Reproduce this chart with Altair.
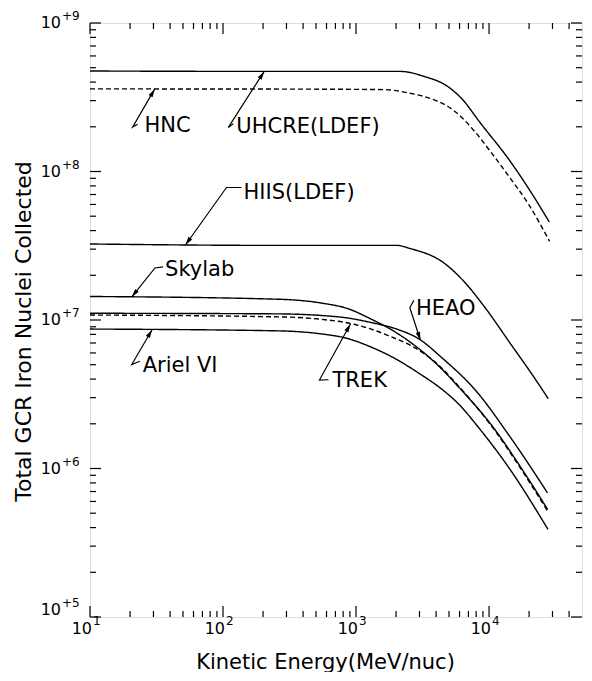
import math
import altair as alt
import pandas as pd

W, H = 492, 594
X_DOMAIN = [10, 50000]
Y_DOMAIN = [1e5, 1e9]
FONT = "DejaVu Sans"

# ---------------- curve data ----------------
uhcre_e = [10, 240, 2160, 3240, 4840, 6120, 8720, 13960, 19870, 28370]
uhcre_n = [4.75e8, 4.72e8, 4.72e8, 4.37e8, 3.76e8, 3.15e8, 2.09e8, 1.22e8, 7.67e7, 4.57e7]

hnc_e = [10, 243, 1630, 2440, 3660, 4870, 6160, 7800, 10470, 14030, 19950, 28500]
hnc_n = [3.6e8, 3.59e8, 3.56e8, 3.39e8, 3.09e8, 2.75e8, 2.34e8, 1.86e8, 1.33e8, 9.33e7, 5.96e7, 3.39e7]

hiis_e = [10, 243, 2030, 2550, 4560, 6470, 9220, 14770, 21000, 27900]
hiis_n = [3.25e7, 3.18e7, 3.18e7, 3.03e7, 2.43e7, 1.82e7, 1.23e7, 6.76e6, 4.32e6, 2.95e6]

skylab_e = [10, 260, 550, 873, 1310, 1970, 4200, 5960, 10720, 17180, 27600]
skylab_n = [1.44e7, 1.38e7, 1.3e7, 1.19e7, 1.01e7, 8.3e6, 4.88e6, 3.51e6, 1.9e6, 1.03e6, 5.3e5]

heao_e = [10, 250, 736, 1310, 2080, 2940, 4430, 7940, 14350, 27500]
heao_n = [1.11e7, 1.1e7, 1.05e7, 9.6e6, 8.61e6, 7.5e6, 5.56e6, 3.35e6, 1.64e6, 6.86e5]

trek_e = [10, 260, 552, 984, 1750, 2950, 3960, 5960, 10720, 17180, 27600]
trek_n = [1.08e7, 1.05e7, 1.01e7, 9.33e6, 7.85e6, 6.28e6, 5.19e6, 3.55e6, 1.87e6, 1.01e6, 5.15e5]

ariel_e = [10, 260, 554, 832, 1320, 1980, 2970, 4470, 6000, 8030, 14500, 27750]
ariel_n = [8.69e6, 8.45e6, 8.05e6, 7.57e6, 6.53e6, 5.48e6, 4.38e6, 3.39e6, 2.68e6, 1.97e6, 9.76e5, 3.89e5]

series_names = ["UHCRE(LDEF)", "HNC", "HIIS(LDEF)", "Skylab", "HEAO", "TREK", "Ariel VI"]
series_style = ["solid", "dashed", "solid", "solid", "solid", "dashed", "solid"]
series_e = [uhcre_e, hnc_e, hiis_e, skylab_e, heao_e, trek_e, ariel_e]
series_n = [uhcre_n, hnc_n, hiis_n, skylab_n, heao_n, trek_n, ariel_n]

# ---------------- annotations ----------------
label_text = ["HNC", "UHCRE(LDEF)", "HIIS(LDEF)", "Skylab", "Ariel VI", "TREK", "HEAO"]
label_e = [25.7, 126, 142.6, 36.7, 24.9, 665, 2820]
label_n = [2.02e8, 1.98e8, 7.22e7, 2.18e7, 4.89e6, 3.86e6, 1.19e7]

leader_e = [
    [22.8, 20.9, 30.7],
    [119.4, 109.6, 204],
    [137.5, 106.2, 52.2],
    [35.4, 30.8, 20.6],
    [23.7, 20.6, 29.3],
    [621, 531, 908],
    [2720, 2540, 3050],
]
leader_n = [
    [2.08e8, 1.99e8, 3.6e8],
    [2.1e8, 1.98e8, 4.72e8],
    [7.8e7, 7.8e7, 3.2e7],
    [2.28e7, 2.24e7, 1.43e7],
    [5.27e6, 5.02e6, 8.6e6],
    [3.96e6, 3.94e6, 9.4e6],
    [1.36e7, 1.21e7, 7.3e6],
]

# ---------------- axis ticks / labels ----------------
x_major = [10, 100, 1000, 10000]
x_label_base = ["10", "10", "10", "10"]
x_label_sup = ["1", "2", "3", "4"]
x_minor = [20, 30, 40, 50, 60, 70, 80, 90,
           200, 300, 400, 500, 600, 700, 800, 900,
           2000, 3000, 4000, 5000, 6000, 7000, 8000, 9000,
           20000, 30000, 40000]
y_major = [1e5, 1e6, 1e7, 1e8, 1e9]
y_label_base = ["10", "10", "10", "10", "10"]
y_label_sup = ["+5", "+6", "+7", "+8", "+9"]
y_minor = [m * 10 ** k for k in range(5, 9) for m in range(2, 10)]

# ---------------- build tables ----------------
rows = []
for name, style, es, ns in zip(series_names, series_style, series_e, series_n):
    for e, n in zip(es, ns):
        rows.append({"series": name, "style": style, "E": e, "N": n})
curves = pd.DataFrame(rows)

labels_df = pd.DataFrame({"text": label_text, "E": label_e, "N": label_n})

lrows = []
for name, es, ns in zip(label_text, leader_e, leader_n):
    for i, (e, n) in enumerate(zip(es, ns)):
        lrows.append({"label": name, "i": i, "E": e, "N": n})
leaders = pd.DataFrame(lrows)


def px(e):
    return W * (math.log10(e) - math.log10(X_DOMAIN[0])) / (math.log10(X_DOMAIN[1]) - math.log10(X_DOMAIN[0]))


def py(n):
    return H * (math.log10(Y_DOMAIN[1]) - math.log10(n)) / (math.log10(Y_DOMAIN[1]) - math.log10(Y_DOMAIN[0]))


arows = []
for name, es, ns in zip(label_text, leader_e, leader_n):
    dx = px(es[-1]) - px(es[-2])
    dy = py(ns[-1]) - py(ns[-2])
    ang = math.degrees(math.atan2(dx, -dy)) % 360
    arows.append({"label": name, "E": es[-1], "N": ns[-1], "angle": ang})
arrows = pd.DataFrame(arows)

xmaj_df = pd.DataFrame({"E": x_major, "base": x_label_base, "sup": x_label_sup})
xmin_df = pd.DataFrame({"E": x_minor})
ymaj_df = pd.DataFrame({"N": y_major, "base": y_label_base, "sup": y_label_sup})
ymin_df = pd.DataFrame({"N": y_minor})

xscale = alt.Scale(type="log", domain=X_DOMAIN, nice=False)
yscale = alt.Scale(type="log", domain=Y_DOMAIN, nice=False)

x_axis = alt.Axis(
    labels=False, ticks=False, domain=False, grid=False,
    title="Kinetic Energy(MeV/nuc)", titleFontSize=21, titleFont=FONT,
    titleFontWeight="normal", titleColor="black",
    titleX=235, titleY=45, titleAlign="center", titleBaseline="middle",
)
y_axis = alt.Axis(
    labels=False, ticks=False, domain=False, grid=False,
    title="Total GCR Iron Nuclei Collected", titleFontSize=22, titleFont=FONT,
    titleFontWeight="normal", titleColor="black",
    titleX=-67, titleY=308, titleAlign="center", titleBaseline="middle", titleAngle=270,
)

X = alt.X("E:Q", scale=xscale, axis=x_axis)
Y = alt.Y("N:Q", scale=yscale, axis=y_axis)

lines = alt.Chart(curves).mark_line(color="black", strokeWidth=1.4, interpolate="monotone").encode(
    x=X, y=Y,
    detail="series:N",
    strokeDash=alt.StrokeDash("style:N", scale=alt.Scale(domain=["solid", "dashed"], range=[[1, 0], [5, 3]]), legend=None),
)

leader_lines = alt.Chart(leaders).mark_line(color="black", strokeWidth=1.2).encode(
    x=X, y=Y, detail="label:N", order="i:Q",
)

arrow_heads = alt.Chart(arrows).mark_point(
    shape="M0,0L-0.55,2L0.55,2Z", filled=True, color="black", size=70, opacity=1
).encode(
    x=X, y=Y,
    angle=alt.Angle("angle:Q", scale=None),
)

texts = alt.Chart(labels_df).mark_text(
    align="left", baseline="middle", fontSize=21, font=FONT, color="black"
).encode(
    x=X, y=Y, text="text:N",
)

# tick labels: "10" with a raised exponent
BASE_FS, SUP_FS = 16, 12
x_lab_base = alt.Chart(xmaj_df).mark_text(
    align="right", baseline="middle", fontSize=BASE_FS, font=FONT, color="black", dx=2
).encode(x=X, y=alt.value(H + 12), text="base:N")
x_lab_sup = alt.Chart(xmaj_df).mark_text(
    align="left", baseline="middle", fontSize=SUP_FS, font=FONT, color="black", dx=3
).encode(x=X, y=alt.value(H + 4), text="sup:N")

y_lab_base = alt.Chart(ymaj_df).transform_filter("datum.N > 100001").mark_text(
    align="right", baseline="middle", fontSize=BASE_FS, font=FONT, color="black"
).encode(y=Y, x=alt.value(-29), text="base:N")
y_lab_sup = alt.Chart(ymaj_df).transform_filter("datum.N > 100001").mark_text(
    align="left", baseline="middle", fontSize=SUP_FS, font=FONT, color="black", dy=-7
).encode(y=Y, x=alt.value(-28), text="sup:N")
y_lab_base_low = alt.Chart(ymaj_df).transform_filter("datum.N < 100001").mark_text(
    align="right", baseline="middle", fontSize=BASE_FS, font=FONT, color="black", dy=-7
).encode(y=Y, x=alt.value(-29), text="base:N")
y_lab_sup_low = alt.Chart(ymaj_df).transform_filter("datum.N < 100001").mark_text(
    align="left", baseline="middle", fontSize=SUP_FS, font=FONT, color="black", dy=-14
).encode(y=Y, x=alt.value(-28), text="sup:N")

MAJ, MIN = 11, 6


def xticks(df, length):
    bottom = alt.Chart(df).mark_rule(color="black", strokeWidth=1.2).encode(
        x=X, y=alt.value(H), y2=alt.value(H - length))
    top = alt.Chart(df).mark_rule(color="black", strokeWidth=1.2).encode(
        x=X, y=alt.value(0), y2=alt.value(length))
    return [bottom, top]


def yticks(df, length):
    left = alt.Chart(df).mark_rule(color="black", strokeWidth=1.2).encode(
        y=Y, x=alt.value(0), x2=alt.value(length))
    right = alt.Chart(df).mark_rule(color="black", strokeWidth=1.2).encode(
        y=Y, x=alt.value(W), x2=alt.value(W - length))
    return [left, right]


layers = [lines, leader_lines, arrow_heads, texts,
          x_lab_base, x_lab_sup, y_lab_base, y_lab_sup, y_lab_base_low, y_lab_sup_low]
layers += xticks(xmaj_df, MAJ) + xticks(xmin_df, MIN) + yticks(ymaj_df, MAJ) + yticks(ymin_df, MIN)

chart = alt.layer(*layers).properties(
    width=W, height=H,
    padding={"left": 82, "top": 15, "right": 2, "bottom": 55},
    autosize=alt.AutoSizeParams(type="none"),
    background="white",
).configure_view(stroke="black", strokeWidth=1.6).configure(font=FONT)

chart.save("out.html", embed_options={"renderer": "svg", "actions": False})
